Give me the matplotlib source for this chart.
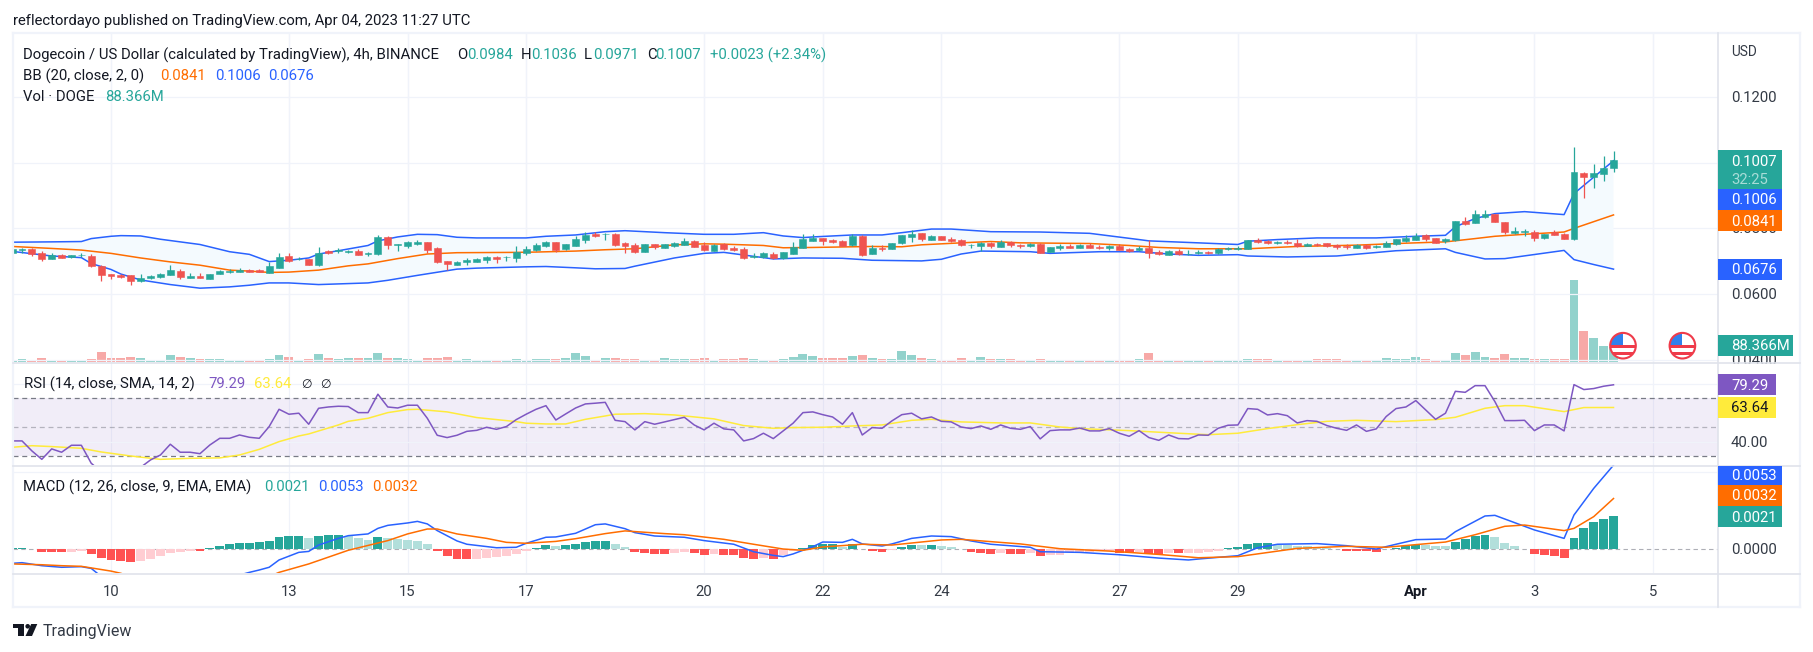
import numpy as np
import matplotlib
matplotlib.use("Agg")
import matplotlib.pyplot as plt
from matplotlib.patches import Circle, Rectangle, Polygon

plt.rcParams["font.family"] = ["Roboto", "DejaVu Sans"]

# ---------------------------------------------------------------
# DATA: 4h bars, bar 0 = Mar 10 00:00 (prices in 1/10000 USD)
# ---------------------------------------------------------------
first_bar = -10
opens = [726,734,737,725,708,719,712,718,716,686,
660,659,658,639,649,651,658,670,650,654,
647,662,668,668,673,673,665,679,716,706,
707,688,731,730,729,731,721,722,773,748,
746,753,758,740,700,690,698,698,705,713,
712,710,725,734,746,758,737,746,764,783,
782,783,756,749,728,751,741,747,749,762,
749,731,754,740,737,712,712,722,709,722,
741,762,770,764,761,749,776,722,741,737,
755,774,786,765,776,767,764,748,746,755,
743,760,749,746,752,728,740,746,740,748,
743,740,746,736,734,740,729,719,731,721,
726,729,724,736,736,737,764,761,755,758,
756,746,754,755,749,747,741,750,742,743,
751,761,766,779,771,761,764,821,816,834,
844,819,785,789,789,770,788,783,767,969,
956,965,984]
highs = [737,740,739,730,724,722,719,724,722,688,
661,662,658,661,658,664,688,675,663,663,
662,673,675,679,675,675,699,725,725,712,
708,743,734,739,735,736,728,780,777,754,
762,764,758,742,700,702,709,710,716,716,
716,746,746,757,761,759,754,776,790,790,
786,785,759,756,752,752,752,758,771,764,
758,752,756,746,743,726,729,729,728,758,
783,784,772,769,764,782,779,749,749,757,
781,795,786,780,776,773,768,753,759,760,
764,761,753,757,756,743,752,752,753,755,
749,749,751,740,746,764,734,734,737,734,
735,731,740,743,745,765,770,764,761,764,
769,756,755,756,752,752,752,752,749,761,
768,779,787,782,771,770,824,834,856,856,
845,819,803,799,795,784,795,787,1048,973,
996,1020,1036]
lows = [726,724,716,702,707,710,711,712,683,640,
647,649,628,638,646,649,657,646,649,649,
646,661,664,667,667,666,664,679,698,703,
688,686,722,726,724,719,717,720,737,732,
740,750,725,695,672,688,689,697,696,695,
701,697,718,731,743,729,734,745,756,774,
764,746,726,725,728,737,739,744,748,743,
731,730,734,731,707,710,711,706,706,721,
740,761,749,755,745,747,717,722,732,736,
752,758,762,764,764,760,747,740,731,740,
743,743,740,742,724,727,733,739,739,739,
737,733,733,729,732,710,719,719,719,719,
722,723,723,735,734,736,756,752,753,751,
742,745,747,744,736,738,740,738,741,742,
750,760,764,762,756,756,763,811,816,833,
819,783,783,777,762,769,779,767,764,892,
924,944,971]
closes = [737,736,722,707,719,711,718,720,685,659,
654,652,640,649,656,661,673,652,654,650,
661,670,671,674,668,668,685,713,700,708,
689,724,726,733,732,720,726,773,750,752,
758,759,734,697,692,697,704,707,713,708,
713,728,736,749,759,733,752,767,780,777,
784,749,747,728,752,742,752,756,762,744,
734,749,737,734,710,716,725,709,728,743,
767,771,762,759,746,776,720,740,737,757,
780,783,768,776,764,762,750,749,755,746,
758,749,747,752,724,743,746,740,749,740,
741,746,734,730,740,726,723,731,721,722,
729,725,738,741,740,764,759,756,758,756,
746,752,749,745,743,743,750,741,747,755,
767,772,778,767,757,769,822,814,844,844,
819,789,792,792,770,783,780,769,971,956,
969,984,1007]
# volume in millions of DOGE
volumes = [12,20,14,25,14,14,14,14,20,59,
25,25,31,25,14,14,43,31,25,20,
20,20,14,14,14,14,20,43,31,14,
20,49,25,20,25,25,25,55,25,25,
20,14,25,25,31,14,20,14,14,14,
14,20,14,20,20,20,25,55,37,14,
25,25,20,20,14,14,25,20,20,20,
25,14,20,20,25,20,14,14,20,31,
49,37,25,25,25,37,43,25,20,20,
67,43,25,20,14,14,25,14,31,20,
20,20,14,14,20,14,14,14,14,14,
14,14,14,14,20,55,14,14,14,14,
14,10,10,10,10,16,16,16,10,10,
10,10,16,16,16,10,10,10,10,22,
16,16,27,16,10,10,51,39,57,27,
22,45,22,22,16,16,16,16,480,180,
139,92,88.366]

# Bollinger bands, sampled at these bars
bb_upper_bars = [-10,-6,-3,-2,0,1,3,5,9,12,14,16,18,20,21,23,26,27,29,31,33,35,37,42,44,47,50,
                 52,56,60,63,66,68,70,71,75,78,80,83,85,89,94,99,104,105,110,
                 114,115,118,122,128,132,135,136,138,140,143,147,148,152]
bb_upper = [758,759,760,769,776,778,777,767,751,729,721,699,703,710,722,732,748,762,774,782,781,773,771,771,776,780,790,
            793,787,782,782,787,777,772,774,780,780,787,798,798,790,789,785,766,762,756,
            751,761,766,771,771,776,779,805,830,845,851,842,906,1006]
bb_basis_bars = [-10,-6,-3,0,3,6,9,12,14,16,18,21,24,26,29,32,35,41,43,47,50,
                 53,57,60,62,66,68,71,77,80,82,86,89,92,99,103,106,110,
                 115,120,126,131,135,138,140,143,147,148,152]
bb_basis = [745,739,734,724,710,698,688,673,670,666,667,673,686,692,708,722,726,727,728,731,735,
            738,750,753,752,748,741,742,745,744,750,756,760,756,754,748,742,738,
            738,745,749,755,759,769,776,782,789,800,841]
bb_lower_bars = [-10,-6,-3,-2,0,1,3,6,9,12,14,16,18,21,26,28,31,35,37,42,44,47,49,
                 52,53,57,60,62,64,67,70,74,77,82,84,86,88,93,95,100,104,107,110,
                 114,115,119,124,130,135,136,139,141,147,148,150,152]
bb_lower = [730,716,711,693,675,661,643,629,618,622,627,634,634,629,634,642,657,676,679,683,684,680,677,
            678,685,710,724,727,719,707,710,709,703,701,706,722,731,729,724,729,729,722,718,
            720,716,713,716,732,738,727,707,708,733,705,690,676]

rsi = [40.6,40.6,33.7,27.9,35.1,32.8,37.6,37.6,25.2,19.4,
18.3,17.1,19.4,22.4,27.5,30.9,38.3,32.8,32.8,31.8,
37.8,42.4,42.4,44.7,43.1,42.4,50.5,62.4,59.0,59.7,
52.1,63.1,64.0,64.5,64.3,60.1,60.1,72.8,64.0,63.3,
65.2,65.2,56.2,44.5,42.9,44.5,47.2,47.9,50.0,48.6,
50.5,55.3,59.0,62.4,64.9,55.0,59.2,63.3,66.1,66.6,
67.2,54.8,53.9,48.2,53.9,52.1,53.7,55.3,56.9,51.6,
48.2,52.8,48.9,48.2,40.6,42.2,45.9,42.2,47.5,52.8,
60.1,60.6,58.7,57.1,52.1,60.1,44.7,49.8,49.3,54.4,
58.7,59.7,55.8,57.1,54.1,53.7,50.2,49.1,50.9,48.6,
51.6,49.3,48.6,50.5,42.0,47.7,48.2,48.2,49.5,47.5,
47.5,49.1,45.9,43.8,47.7,42.9,41.0,44.7,42.2,42.0,
44.7,44.5,49.3,51.4,51.6,62.9,62.4,58.5,59.4,58.0,
53.0,54.6,54.1,51.2,49.3,47.9,51.6,47.2,48.9,57.4,
62.9,64.0,68.4,62.0,55.5,59.7,74.8,74.1,78.7,78.7,
67.7,54.6,54.6,54.8,47.7,51.6,51.6,47.5,79.4,76.0,
76.7,78.3,79.29]
rsi_ma_bars = [-10,-8,-6,-3,-1,2,5,8,11,13,15,17,19,20,23,24,26,28,30,31,34,37,41,42,44,46,48,50,
               51,54,57,61,64,67,69,72,75,78,81,83,86,90,93,96,98,103,106,110,
               111,114,117,120,123,126,130,134,136,139,141,143,147,149,152]
rsi_ma = [36.2,37.3,36.7,35.5,33.0,30.2,27.9,28.6,28.9,30.9,34.8,40.1,44.0,45.4,51.6,54.1,56.2,60.1,62.2,62.4,60.6,56.7,53.9,52.8,52.3,52.3,55.5,57.8,
          59.0,59.4,58.5,55.8,51.2,49.3,49.8,50.0,50.9,51.6,54.8,55.5,53.7,53.0,53.0,50.2,49.1,47.7,46.6,45.2,
          44.9,45.9,49.1,51.8,54.1,54.8,53.9,55.3,56.9,63.1,64.9,64.9,60.8,63.6,63.64]

# MACD values in 1/10000 USD
macd_hist = [0.8,0.8,0,-1.7,-1.7,-1.7,-1.5,-1.1,-2.9,-5.5,
-6.7,-7.4,-8.0,-7.1,-6.1,-4.0,-2.3,-1.7,-1.1,-1.1,
0.8,2.1,3.4,4.0,4.0,4.6,5.3,7.8,8.4,8.4,
7.1,8.4,9.0,9.0,8.4,7.1,5.9,7.8,7.1,6.5,
5.9,5.3,3.4,-1.1,-4.2,-6.3,-6.3,-6.1,-5.5,-4.8,
-4.2,-2.9,-1.1,0.8,2.7,2.1,2.7,3.4,4.6,5.3,
5.3,3.4,1.5,-1.7,-2.3,-2.9,-3.0,-2.3,-1.5,-2.3,
-3.6,-2.9,-3.6,-3.6,-5.5,-6.1,-5.5,-6.1,-3.6,-0.8,
0.8,2.7,3.4,3.5,1.5,3.4,0.4,-0.8,-1.7,-0.4,
1.5,2.7,2.6,2.7,2.1,1.3,0.2,-1.7,-2.3,-2.9,
-2.3,-2.9,-2.9,-2.3,-4.2,-3.6,-3.5,-1.7,-1.6,-1.5,
-1.0,-0.9,-2.3,-2.3,-1.7,-2.9,-2.9,-2.3,-2.3,-2.2,
-2.1,-1.7,-1.1,0.8,1.5,3.4,4.0,4.0,2.7,2.6,
2.1,2.0,1.5,0.8,0.2,-1.1,-1.1,-1.1,-1.7,0.2,
0.8,2.1,2.7,2.6,2.1,2.0,4.6,6.5,8.4,9.0,
7.8,4.0,2.1,0.2,-2.9,-3.6,-4.2,-5.5,7.1,13.4,
17.2,19.1,21.0]
macd_bars = [-10,-9,-7,-5,-3,-2,-1,0,5,10,13,14,15,16,17,19,20,21,23,24,26,27,28,30,31,32,33,35,36,39,41,42,44,45,47,49,
             50,52,53,55,58,60,63,65,67,68,69,71,72,74,75,76,78,79,81,83,85,87,89,93,94,98,102,106,109,
             110,114,116,118,122,125,128,130,132,135,136,139,140,142,144,147,148,150,152]
macd_line = [-8.8,-8.4,-10.3,-11.3,-10.9,-12.0,-17.0,-19.3,-29.8,-27.7,-16.2,-14.5,-13.0,-11.3,-6.7,-1.9,-1.3,2.7,6.9,8.6,9.7,13.2,15.1,16.6,17.6,16.0,11.8,5.3,3.2,1.0,1.3,3.8,7.6,7.8,10.1,15.5,
             16.0,13.0,10.5,8.4,7.6,5.5,3.2,-1.5,-3.8,-4.6,-2.9,1.7,4.6,4.4,6.3,3.4,2.1,3.4,6.9,8.4,8.0,5.3,3.2,1.3,-1.5,-1.9,-3.4,-5.5,-6.7,
             -6.1,-4.0,1.0,3.2,3.6,2.3,0.2,3.2,6.1,6.5,11.1,21.0,21.4,16.8,12.2,6.9,21.6,38.4,53.0]
signal_bars = [-10,-7,-5,-3,0,1,5,10,16,17,20,24,28,30,32,33,35,38,40,42,45,47,50,
               52,56,58,62,65,68,70,72,76,79,84,86,92,96,101,106,110,
               114,120,125,129,135,138,141,143,147,148,150,152]
signal_line = [-9.2,-9.7,-10.3,-10.7,-13.7,-15.1,-23.5,-25.6,-17.2,-14.5,-9.2,-0.6,5.5,9.7,12.8,12.8,9.7,6.9,4.4,3.8,5.0,6.7,9.9,
               11.6,9.9,9.2,6.3,3.2,0.2,-0.6,1.5,3.2,2.7,5.9,6.3,3.4,0.4,-1.1,-3.2,-5.3,
               -4.6,0.6,1.9,1.3,4.6,9.2,14.5,15.3,11.8,13.2,20.6,32.0]

# time axis: bar position -> label
tick_bars = [0, 18, 30, 42, 60, 72, 84, 102, 114, 132, 144, 156]
tick_labels = ["10", "13", "15", "17", "20", "22", "24", "27", "29", "Apr", "3", "5"]

# ---------------------------------------------------------------
# COLOURS / LAYOUT
# ---------------------------------------------------------------
GREEN = "#26a69a"; RED = "#ef5350"; BLUE = "#2962ff"; ORANGE = "#ff6d00"
PURPLE = "#7e57c2"; YELLOW = "#ffeb3b"; GRID = "#f0f3fa"; LINE = "#e0e3eb"; INK = "#131722"
W, H = 1813, 652
FS = 10.7

def pane(top, bottom, left=13, right=1718):
    a = fig.add_axes([left / W, 1 - bottom / H, (right - left) / W, (bottom - top) / H])
    a.patch.set_visible(False)
    a.set_xticks([]); a.set_yticks([])
    for s in a.spines.values():
        s.set_visible(False)
    a.set_xlim(-9.914, 162.57)
    for t in tick_bars:
        a.axvline(t, color=GRID, lw=0.9, zorder=0)
    return a

fig = plt.figure(figsize=(W / 100, H / 100), dpi=100, facecolor="white")

bars = np.arange(first_bar, first_bar + len(opens))
o = np.array(opens) / 1e4; h = np.array(highs) / 1e4
l = np.array(lows) / 1e4; c = np.array(closes) / 1e4
up = c >= o

# ---------------------------------------------------------------
# PRICE PANE with volume underneath
# ---------------------------------------------------------------
ax_vol = pane(33, 362)
ax_vol.set_ylim(0, 1935)
vol_colors = np.where(up, "#92d2cc", "#f7a9a7")
ax_vol.bar(bars, volumes, width=0.9, color=vol_colors, zorder=2)

ax = pane(33, 362)
ax.set_ylim(0.03933, 0.13948)
for p in [0.04, 0.06, 0.08, 0.10, 0.12]:
    ax.axhline(p, color=GRID, lw=0.9, zorder=0)

up_x = np.array(bb_upper_bars); lo_x = np.array(bb_lower_bars)
up_y = np.array(bb_upper) / 1e4; lo_y = np.array(bb_lower) / 1e4
ax.fill(np.r_[up_x, lo_x[::-1]], np.r_[up_y, lo_y[::-1]], color="#f4fafe", lw=0, zorder=1)
ax.plot(up_x, up_y, color=BLUE, lw=1.1, zorder=2, solid_joinstyle="round")
ax.plot(lo_x, lo_y, color=BLUE, lw=1.1, zorder=2, solid_joinstyle="round")
ax.plot(bb_basis_bars, np.array(bb_basis) / 1e4, color=ORANGE, lw=1.1, zorder=2)

candle_colors = np.where(up, GREEN, RED)
ax.vlines(bars, l, h, colors=candle_colors, lw=0.9, zorder=3)
ax.bar(bars, np.abs(c - o), bottom=np.minimum(o, c), width=0.7, color=candle_colors,
       edgecolor=candle_colors, lw=0.4, zorder=4)

# ---------------------------------------------------------------
# RSI PANE
# ---------------------------------------------------------------
ax_rsi = pane(362, 465)
ax_rsi.set_ylim(24.0, 95.0)
ax_rsi.axhspan(30, 70, color=PURPLE, alpha=0.1, lw=0, zorder=0)
for v in [40, 80]:
    ax_rsi.axhline(v, color=GRID, lw=0.9, zorder=0)
ax_rsi.axhline(70, color="#787b86", lw=0.9, dashes=(4, 3), zorder=1)
ax_rsi.axhline(30, color="#787b86", lw=0.9, dashes=(4, 3), zorder=1)
ax_rsi.axhline(50, color="#787b86", lw=0.9, dashes=(4, 3), alpha=0.5, zorder=1)
ax_rsi.plot(rsi_ma_bars, rsi_ma, color=YELLOW, lw=1.1, zorder=2)
ax_rsi.plot(bars, rsi, color=PURPLE, lw=1.1, zorder=3)

# ---------------------------------------------------------------
# MACD PANE
# ---------------------------------------------------------------
ax_macd = pane(465, 573)
ax_macd.set_ylim(-0.00149, 0.00531)
ax_macd.axhline(0.0049, color=GRID, lw=0.9, zorder=0)
ax_macd.axhline(0, color="#787b86", lw=0.8, dashes=(4, 3), alpha=0.6, zorder=0)

hist = np.array(macd_hist)
hist_colors = []
prev = hist[0]
for v in hist:
    if v >= 0:
        hist_colors.append("#26a69a" if v >= prev else "#b2dfdb")
    else:
        hist_colors.append("#ffcdd2" if v > prev else "#ff5252")
    prev = v
ax_macd.bar(bars, hist / 1e4, width=0.9, color=hist_colors, zorder=2)
ax_macd.plot(macd_bars, np.array(macd_line) / 1e4, color=BLUE, lw=1.1, zorder=3)
ax_macd.plot(signal_bars, np.array(signal_line) / 1e4, color=ORANGE, lw=1.1, zorder=4)

# ---------------------------------------------------------------
# FRAME, TEXT AND TAGS (drawn in figure pixels)
# ---------------------------------------------------------------
ov = fig.add_axes([0, 0, 1, 1])
ov.set_xlim(0, W); ov.set_ylim(H, 0)
ov.axis("off"); ov.patch.set_visible(False)

def text(x, y, s, color=INK, ha="left", size=FS, z=5, **kw):
    ov.text(x, y + 1, s, color=color, ha=ha, va="center", fontsize=size, zorder=z, **kw)

def tag(y0, y1, s, color, x1=1782, tcolor="white", ty=None):
    ov.add_patch(Rectangle((1718, y0), x1 - 1718, y1 - y0, fc=color, ec="none", zorder=6))
    text(1731, (y0 + y1) / 2 if ty is None else ty, s, color=tcolor, z=7)

# outer frame and pane separators
for x0, y0, x1, y1 in [(13, 33, 1800, 33), (13, 607, 1800, 607), (13, 33, 13, 607), (1800, 33, 1800, 607)]:
    ov.plot([x0, x1], [y0, y1], color=GRID, lw=1.6, zorder=3)
for y in [363, 465.5, 573.5]:
    ov.plot([13, 1800], [y, y], color=LINE, lw=1.2, zorder=4)
ov.plot([1718, 1718], [33, 607], color=LINE, lw=1.2, zorder=4)

text(13, 20, "reflectordayo published on TradingView.com, Apr 04, 2023 11:27 UTC")

# legend rows
text(23, 54, "Dogecoin / US Dollar (calculated by TradingView), 4h, BINANCE")
for x, s, col in [(457.5, "O", INK), (467, "0.0984", GREEN), (521, "H", INK), (531, "0.1036", GREEN),
                  (584, "L", INK), (593, "0.0971", GREEN), (647, "C", INK), (655, "0.1007", GREEN),
                  (709.5, "+0.0023 (+2.34%)", GREEN)]:
    text(x, 54, s, color=col)
text(23, 75, "BB (20, close, 2, 0)")
text(160, 75, "0.0841", color=ORANGE); text(215, 75, "0.1006", color=BLUE); text(268, 75, "0.0676", color=BLUE)
text(23, 96, "Vol · DOGE"); text(105, 96, "88.366M", color=GREEN)
text(23.5, 383, "RSI (14, close, SMA, 14, 2)")
text(208.5, 383, "79.29", color=PURPLE); text(254, 383, "63.64", color=YELLOW)
text(301, 383, "∅", size=FS - 2); text(320, 383, "∅", size=FS - 2)
text(23, 486, "MACD (12, 26, close, 9, EMA, EMA)")
text(264, 486, "0.0021", color=GREEN); text(318, 486, "0.0053", color=BLUE); text(372, 486, "0.0032", color=ORANGE)

# price scale
text(1731, 51, "USD", color="#333a45", size=FS - 0.9)
for y, s in [(97, "0.1200"), (228, "0.0800"), (294, "0.0600"), (360, "0.0400")]:
    text(1731, y, s, color="#333a45", z=2)
text(1731, 441.7, "40.00", color="#333a45")
text(1731, 549.3, "0.0000", color="#333a45")
ov.add_patch(Rectangle((1719, 364), 80, 10, fc="white", ec="none", zorder=3))

tag(150, 189, "0.1007", GREEN, ty=161)
text(1731, 179, "32:25", color="#a8dcd7", z=7)
tag(189, 210, "0.1006", BLUE)
tag(210, 231, "0.0841", ORANGE)
tag(259, 280, "0.0676", BLUE)
tag(335, 356, "88.366M", GREEN, x1=1793)
tag(374, 395, "79.29", PURPLE, x1=1776)
tag(397, 418, "63.64", YELLOW, x1=1776, tcolor=INK)
tag(466, 485, "0.0053", BLUE)
tag(485, 506, "0.0032", ORANGE)
tag(506, 527, "0.0021", GREEN)

# time scale
for t, s in zip(tick_bars, tick_labels):
    text(111 + 9.885 * t, 590.7, s, color=INK if s == "Apr" else "#333a45", ha="center",
         fontweight="bold" if s == "Apr" else "normal")

# economic event flags
for cx in [1623, 1682.4]:
    cy = 345.7
    clip = Circle((cx, cy), 12.5, transform=ov.transData)
    ov.add_patch(Circle((cx, cy), 12.5, fc="white", ec="none", zorder=5))
    for dy in [-1, 6]:
        st = Rectangle((cx - 13, cy + dy), 26, 3.6, fc="#ef3b4a", ec="none", zorder=5.1)
        ov.add_patch(st); st.set_clip_path(clip)
    canton = Rectangle((cx - 13, cy - 13), 13, 12, fc="#2f80ed", ec="none", zorder=5.2)
    ov.add_patch(canton); canton.set_clip_path(clip)
    ov.add_patch(Circle((cx, cy), 12.8, fc="none", ec="#ef3b4a", lw=1.5, zorder=5.3))

# wordmark
ov.add_patch(Rectangle((12.6, 624), 11.4, 4.4, fc=INK, ec="none"))
ov.add_patch(Rectangle((18, 624), 6, 12, fc=INK, ec="none"))
ov.add_patch(Circle((27.7, 626.3), 2.3, fc=INK, ec="none"))
ov.add_patch(Polygon([(31.2, 624), (37.3, 624), (32, 636), (25.5, 636)], fc=INK, ec="none"))
text(43, 630.5, "TradingView", color="#333a45", size=FS + 0.8)

fig.savefig("out.png", dpi=100)
